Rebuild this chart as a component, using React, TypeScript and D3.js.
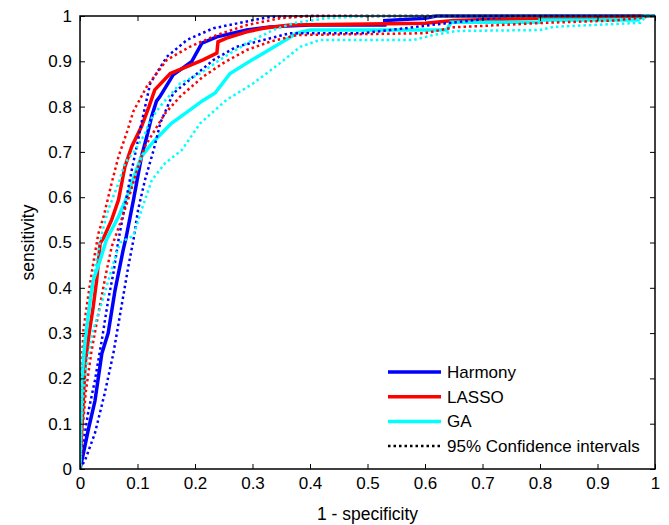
import { useRef, useEffect } from "react";
import * as d3 from "d3";

type Pt = [number, number];

// tick values
const xTicks = [0, 0.1, 0.2, 0.3, 0.4, 0.5, 0.6, 0.7, 0.8, 0.9, 1];
const yTicks = [0, 0.1, 0.2, 0.3, 0.4, 0.5, 0.6, 0.7, 0.8, 0.9, 1];

// Harmony
const harmony: Pt[] = [
  [0, 0], [0.006, 0.035], [0.015, 0.09], [0.026, 0.15], [0.038, 0.255], [0.049, 0.3],
  [0.061, 0.395], [0.075, 0.483], [0.08, 0.51], [0.093, 0.594], [0.107, 0.69],
  [0.116, 0.733], [0.125, 0.78], [0.133, 0.812], [0.139, 0.822], [0.162, 0.87],
  [0.194, 0.899], [0.212, 0.94], [0.238, 0.954], [0.29, 0.969], [0.33, 0.976],
  [0.4, 0.98], [0.53, 0.98], [0.53, 0.99], [0.6, 0.995], [0.62, 1], [1, 1],
];
const harmonyUp: Pt[] = [
  [0, 0], [0.003, 0.035], [0.014, 0.123], [0.026, 0.196], [0.038, 0.285], [0.049, 0.373],
  [0.058, 0.432], [0.067, 0.506], [0.078, 0.58], [0.09, 0.66], [0.1, 0.72],
  [0.108, 0.77], [0.115, 0.81], [0.122, 0.851], [0.151, 0.91], [0.186, 0.947],
  [0.232, 0.973], [0.29, 0.988], [0.33, 0.998], [0.4, 1], [1, 1],
];
const harmonyLo: Pt[] = [
  [0, 0], [0.009, 0.02], [0.026, 0.079], [0.043, 0.167], [0.058, 0.255], [0.072, 0.358],
  [0.084, 0.447], [0.093, 0.506], [0.101, 0.572], [0.113, 0.638], [0.128, 0.704],
  [0.14, 0.765], [0.162, 0.829], [0.197, 0.866], [0.232, 0.903], [0.272, 0.932],
  [0.319, 0.947], [0.365, 0.962], [0.49, 0.962], [0.54, 0.969], [0.61, 0.98],
  [0.68, 0.99], [0.75, 1], [1, 1],
];

// LASSO
const lasso: Pt[] = [
  [0, 0], [0.003, 0.086], [0.009, 0.233], [0.016, 0.3], [0.023, 0.358], [0.029, 0.417],
  [0.035, 0.498], [0.041, 0.51], [0.055, 0.55], [0.067, 0.594], [0.078, 0.667],
  [0.09, 0.712], [0.107, 0.756], [0.12, 0.8], [0.13, 0.837], [0.157, 0.873],
  [0.186, 0.888], [0.214, 0.903], [0.238, 0.918], [0.24, 0.943], [0.255, 0.951],
  [0.29, 0.965], [0.319, 0.973], [0.365, 0.98], [0.6, 0.984], [0.65, 0.99],
  [0.8, 0.995], [1, 1],
];
const lassoUp: Pt[] = [
  [0, 0], [0.002, 0.2], [0.006, 0.307], [0.014, 0.38], [0.023, 0.454], [0.032, 0.52],
  [0.041, 0.557], [0.055, 0.631], [0.067, 0.69], [0.081, 0.741], [0.093, 0.79],
  [0.116, 0.844], [0.151, 0.903], [0.191, 0.932], [0.238, 0.958], [0.29, 0.98],
  [0.348, 0.995], [0.4, 1], [1, 1],
];
const lassoLo: Pt[] = [
  [0, 0], [0.004, 0.08], [0.01, 0.17], [0.02, 0.26], [0.033, 0.35], [0.045, 0.43],
  [0.055, 0.49], [0.072, 0.55], [0.087, 0.608], [0.101, 0.667], [0.113, 0.712],
  [0.13, 0.748], [0.148, 0.785], [0.174, 0.822], [0.214, 0.866], [0.249, 0.896],
  [0.29, 0.925], [0.33, 0.943], [0.377, 0.958], [0.6, 0.962], [0.65, 0.975],
  [0.81, 0.985], [0.93, 0.99], [1, 1],
];

// GA
const ga: Pt[] = [
  [0, 0], [0.003, 0.196], [0.009, 0.285], [0.017, 0.365], [0.023, 0.417], [0.035, 0.461],
  [0.046, 0.506], [0.067, 0.557], [0.084, 0.608], [0.096, 0.653], [0.107, 0.69],
  [0.125, 0.719], [0.142, 0.741], [0.159, 0.763], [0.183, 0.785], [0.212, 0.812],
  [0.235, 0.83], [0.261, 0.873], [0.29, 0.896], [0.319, 0.918], [0.348, 0.94],
  [0.377, 0.962], [0.4, 0.969], [0.638, 0.969], [0.645, 0.986], [0.8, 0.986],
  [0.8, 0.991], [0.97, 0.991], [0.98, 1], [1, 1],
];
const gaUp: Pt[] = [
  [0, 0], [0.002, 0.15], [0.005, 0.25], [0.012, 0.33], [0.02, 0.4], [0.03, 0.47],
  [0.038, 0.52], [0.049, 0.572], [0.067, 0.631], [0.078, 0.675], [0.096, 0.704],
  [0.113, 0.74], [0.122, 0.77], [0.139, 0.8], [0.174, 0.851], [0.209, 0.873],
  [0.243, 0.903], [0.29, 0.94], [0.336, 0.969], [0.371, 0.984], [0.429, 0.995],
  [0.5, 1], [1, 1],
];
const gaLo: Pt[] = [
  [0, 0], [0.003, 0.1], [0.006, 0.17], [0.012, 0.233], [0.023, 0.307], [0.041, 0.38],
  [0.058, 0.454], [0.07, 0.5], [0.093, 0.515], [0.107, 0.572], [0.125, 0.638],
  [0.148, 0.675], [0.177, 0.704], [0.209, 0.763], [0.255, 0.815], [0.301, 0.851],
  [0.348, 0.896], [0.383, 0.932], [0.417, 0.947], [0.58, 0.947], [0.614, 0.958],
  [0.655, 0.967], [0.8, 0.969], [0.823, 0.976], [0.974, 0.985], [0.985, 1], [1, 1],
];

const legendItems = ["Harmony", "LASSO", "GA", "95% Confidence intervals"];

function App() {
  const svgRef = useRef<SVGSVGElement>(null);

  useEffect(() => {
    const w = 669;
    const h = 525;
    const left = 80, right = 655, top = 16, bottom = 469;
    const font = "Liberation Sans, Arial, Helvetica, sans-serif";
    const svg = d3.select(svgRef.current).attr("width", w).attr("height", h);
    svg.selectAll("*").remove();

    const xScale = d3.scaleLinear().domain([0, 1]).range([left, right]);
    const yScale = d3.scaleLinear().domain([0, 1]).range([bottom, top]);

    const clip = svg.append("defs").append("clipPath").attr("id", "plotclip");
    clip.append("rect").attr("x", left).attr("y", top - 2).attr("width", right - left + 2).attr("height", bottom - top + 2);

    const line = d3
      .line<Pt>()
      .x((d) => xScale(d[0]))
      .y((d) => yScale(d[1]));

    const g = svg.append("g").attr("clip-path", "url(#plotclip)");

    // solid curves
    const solids: [Pt[], string][] = [
      [harmony, "#0000ff"],
      [lasso, "#ff0000"],
      [ga, "#00ffff"],
    ];
    solids.forEach(([d, c]) => {
      g.append("path")
        .attr("d", line(d))
        .attr("fill", "none")
        .attr("stroke", c)
        .attr("stroke-width", 3.5);
    });

    // confidence intervals
    const dotted: [Pt[], string][] = [
      [harmonyUp, "#0000ff"],
      [harmonyLo, "#0000ff"],
      [lassoUp, "#ff0000"],
      [lassoLo, "#ff0000"],
      [gaUp, "#00ffff"],
      [gaLo, "#00ffff"],
    ];
    dotted.forEach(([d, c]) => {
      g.append("path")
        .attr("d", line(d))
        .attr("fill", "none")
        .attr("stroke", c)
        .attr("stroke-width", 2.5)
        .attr("stroke-dasharray", "2.5,3");
    });

    // box and ticks
    svg.append("rect")
      .attr("x", left).attr("y", top)
      .attr("width", right - left).attr("height", bottom - top)
      .attr("fill", "none").attr("stroke", "#000").attr("stroke-width", 1.5);

    const xAxis = d3.axisBottom(xScale).tickValues(xTicks).tickSize(-5).tickPadding(8).tickFormat(d3.format("~g"));
    const yAxis = d3.axisLeft(yScale).tickValues(yTicks).tickSize(-5).tickPadding(8).tickFormat(d3.format("~g"));
    const xTop = d3.axisTop(xScale).tickValues(xTicks).tickSize(-5).tickFormat(() => "");
    const yRight = d3.axisRight(yScale).tickValues(yTicks).tickSize(-5).tickFormat(() => "");

    const styleAxis = (sel: d3.Selection<SVGGElement, unknown, null, undefined>) => {
      sel.select(".domain").remove();
      sel.selectAll("line").attr("stroke", "#000").attr("stroke-width", 1);
      sel.selectAll("text").attr("font-family", font).attr("font-size", 17).attr("fill", "#000");
    };
    svg.append("g").attr("transform", `translate(0, ${bottom})`).call(xAxis).call(styleAxis);
    svg.append("g").attr("transform", `translate(${left}, 0)`).call(yAxis).call(styleAxis);
    svg.append("g").attr("transform", `translate(0, ${top})`).call(xTop).call(styleAxis);
    svg.append("g").attr("transform", `translate(${right}, 0)`).call(yRight).call(styleAxis);

    // axis labels
    svg.append("text")
      .attr("x", (left + right) / 2).attr("y", 520)
      .attr("text-anchor", "middle")
      .attr("font-family", font).attr("font-size", 17.5)
      .text("1 - specificity");
    svg.append("text")
      .attr("transform", `translate(34, ${(top + bottom) / 2}) rotate(-90)`)
      .attr("text-anchor", "middle")
      .attr("font-family", font).attr("font-size", 17.5)
      .text("sensitivity");

    // legend
    const legendColors = ["#0000ff", "#ff0000", "#00ffff", "#000"];
    const lg = svg.append("g");
    legendItems.forEach((name, i) => {
      const y = 372 + i * 24.7;
      lg.append("line")
        .attr("x1", 388).attr("x2", 441)
        .attr("y1", y).attr("y2", y)
        .attr("stroke", legendColors[i])
        .attr("stroke-width", i < 3 ? 3.5 : 2.5)
        .attr("stroke-dasharray", i < 3 ? null : "2.5,3");
      lg.append("text")
        .attr("x", 447).attr("y", y + 6)
        .attr("font-family", font).attr("font-size", 17)
        .text(name);
    });
  }, []);

  return (
    <svg
      ref={svgRef}
      style={{ position: "absolute", left: 0, top: 0, display: "block", background: "#fff" }}
    ></svg>
  );
}

export default App;
